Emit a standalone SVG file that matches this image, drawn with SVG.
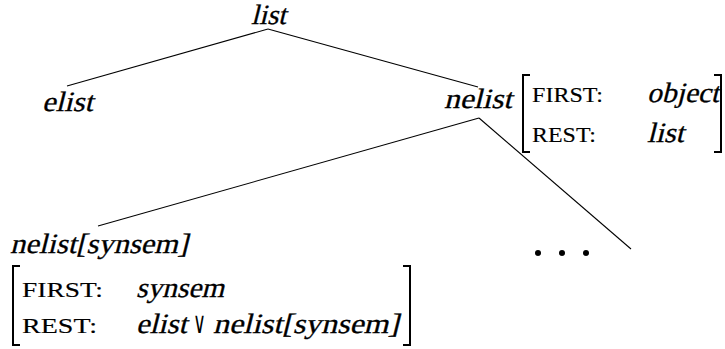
<svg xmlns="http://www.w3.org/2000/svg" width="725" height="349" viewBox="0 0 725 349">
<style>
.it{font-family:"Liberation Serif","DejaVu Serif",serif;font-size:28px;fill:#000;stroke:#000;stroke-width:0.3}
.sc{font-family:"Liberation Serif","DejaVu Serif",serif;font-size:22px;fill:#000;stroke:#000;stroke-width:0.15}
.or{font-family:"DejaVu Sans",sans-serif;font-size:30px;fill:#000}
.ln{stroke:#000;stroke-width:1.1;fill:none}
.br{stroke:#000;stroke-width:2;fill:none}
</style>
<rect width="725" height="349" fill="#fff"/>
<g id="connectors">
<line class="ln" x1="268" y1="29" x2="67" y2="86"/>
<line class="ln" x1="268" y1="29" x2="478" y2="87"/>
<line class="ln" x1="479" y1="118" x2="98" y2="226"/>
<line class="ln" x1="479" y1="118" x2="631" y2="249"/>
</g>
<g id="list"><text class="it" transform="translate(251,24) skewX(-14)" textLength="35" lengthAdjust="spacingAndGlyphs">list</text></g>
<g id="elist"><text class="it" transform="translate(42,111) skewX(-14)" textLength="51" lengthAdjust="spacingAndGlyphs">elist</text></g>
<g id="nelist">
<text class="it" transform="translate(444,108) skewX(-14)" textLength="68" lengthAdjust="spacingAndGlyphs">nelist</text>
<path class="br" d="M530,75 H523 V152 H530"/>
<path class="br" d="M714,75 H721 V152 H714"/>
<text class="sc" x="532" y="102" textLength="71" lengthAdjust="spacingAndGlyphs">FIRST:</text>
<text class="it" transform="translate(647,102) skewX(-14)" textLength="72" lengthAdjust="spacingAndGlyphs">object</text>
<text class="sc" x="532" y="142" textLength="64" lengthAdjust="spacingAndGlyphs">REST:</text>
<text class="it" transform="translate(647,142) skewX(-14)" textLength="37" lengthAdjust="spacingAndGlyphs">list</text>
</g>
<g id="nelist-synsem">
<text class="it" transform="translate(10,253) skewX(-14)" textLength="178" lengthAdjust="spacingAndGlyphs">nelist[synsem]</text>
<path class="br" d="M20,266 H13 V345 H20"/>
<path class="br" d="M403,266 H410 V345 H403"/>
<text class="sc" x="22" y="297" textLength="81" lengthAdjust="spacingAndGlyphs">FIRST:</text>
<text class="it" transform="translate(136,297) skewX(-14)" textLength="88" lengthAdjust="spacingAndGlyphs">synsem</text>
<text class="sc" x="22" y="333" textLength="75" lengthAdjust="spacingAndGlyphs">REST:</text>
<text class="it" transform="translate(136,333) skewX(-14)" textLength="51" lengthAdjust="spacingAndGlyphs">elist</text>
<text class="or" x="193" y="333" textLength="13" lengthAdjust="spacingAndGlyphs">∨</text>
<text class="it" transform="translate(213,333) skewX(-14)" textLength="186" lengthAdjust="spacingAndGlyphs">nelist[synsem]</text>
</g>
<g id="ellipsis">
<circle cx="538" cy="253" r="3"/>
<circle cx="562" cy="253" r="3"/>
<circle cx="586" cy="253" r="3"/>
</g>
</svg>
